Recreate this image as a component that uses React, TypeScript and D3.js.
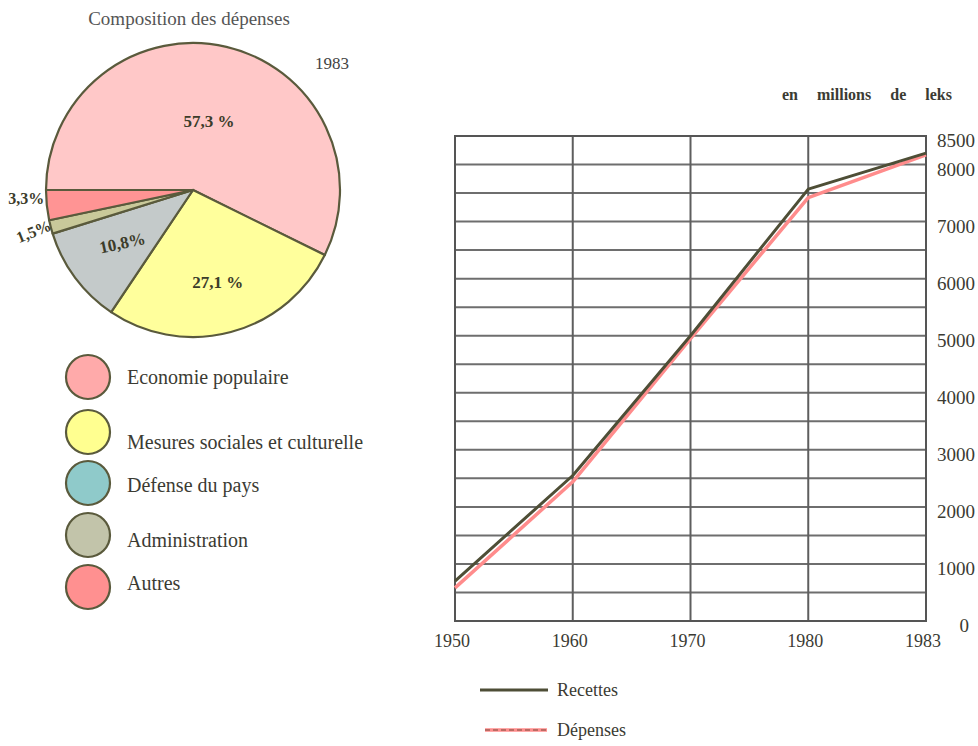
import * as d3 from "d3"
import { useMemo } from "react"

// pie data
const categories = ["Economie populaire", "Mesures sociales et culturelle", "Défense du pays", "Administration", "Autres"]
const shares = [57.3, 27.1, 10.8, 1.5, 3.3]
const shareLabels = ["57,3 %", "27,1 %", "10,8%", "1,5%", "3,3%"]

// line chart data
const years = ["1950", "1960", "1970", "1980", "1983"]
const recettes = [700, 2550, 5000, 7570, 8200]
const depenses = [580, 2440, 4950, 7420, 8170]
const yTicks = [0, 1000, 2000, 3000, 4000, 5000, 6000, 7000, 8000, 8500]

const sliceFill = ["#ffc8c8", "#ffff9c", "#c4caca", "#c9c99a", "#ff9494"]
const legendFill = ["#ffaaaa", "#ffff90", "#8fcaca", "#c2c4aa", "#ff9090"]
const labelRadius = [0.48, 0.65, 0.6, 1.12, 1.14]
const labelRotate = [0, 0, -12, -22, 0]
const labelShiftY = [0, 0, 0, 0, -9]

const FONT = "'Liberation Serif', 'DejaVu Serif', serif"
const INK = "#3b3b33"
const EDGE = "#5a5a3c"

const PieChart = () => {
    const cx = 193
    const cy = 190
    const radius = 147

    const arcs = useMemo(() => {
        const pie = d3.pie<number>().sort(null).startAngle(-Math.PI / 2).endAngle(1.5 * Math.PI)
        return pie(shares)
    }, [])
    const arcGen = d3.arc<d3.PieArcDatum<number>>().innerRadius(0).outerRadius(radius)

    return (
        <g>
            <text x={189} y={25} textAnchor="middle" fontSize={19} fill="#555" fontFamily={FONT}>
                Composition des dépenses
            </text>
            <text x={315} y={69} fontSize={17} fill="#444" fontFamily={FONT}>1983</text>
            <g transform={`translate(${cx},${cy})`}>
                {arcs.map((a, i) => (
                    <path key={i} d={arcGen(a) as string} fill={sliceFill[i]} stroke={EDGE} strokeWidth={2.2} strokeLinejoin="round" />
                ))}
                {arcs.map((a, i) => {
                    const mid = (a.startAngle + a.endAngle) / 2
                    const r = radius * labelRadius[i]
                    const x = Math.sin(mid) * r
                    const y = -Math.cos(mid) * r + labelShiftY[i]
                    return (
                        <text key={i} x={x} y={y} dy="0.35em" textAnchor="middle" fontSize={i < 3 ? 17 : 16}
                            fontWeight="bold" fill="#3c3c2a" fontFamily={FONT}
                            transform={`rotate(${labelRotate[i]},${x},${y})`}>
                            {shareLabels[i]}
                        </text>
                    )
                })}
            </g>
            {/* legend */}
            {categories.map((c, i) => {
                const circleY = [377, 432, 483, 535, 587][i]
                const textY = [384, 449, 492, 547, 590][i]
                return (
                    <g key={c}>
                        <circle cx={88} cy={circleY} r={22} fill={legendFill[i]} stroke={EDGE} strokeWidth={2.2} />
                        <text x={127} y={textY} fontSize={20} fill={INK} fontFamily={FONT}>{c}</text>
                    </g>
                )
            })}
        </g>
    )
}

const LineChart = () => {
    const x = d3.scalePoint<string>().domain(years).range([455, 926])
    const y = d3.scaleLinear().domain([0, 8500]).range([621, 136])
    const grid = d3.range(0, 8501, 500)
    const line = d3.line<number>().x((_, i) => x(years[i]) as number).y((d) => y(d))

    return (
        <g>
            <text x={782} y={100} fontSize={16} fontWeight="bold" fill={INK} fontFamily={FONT}
                style={{ wordSpacing: "15px" }}>
                en millions de leks
            </text>
            {grid.map((g) => (
                <line key={g} x1={455} x2={926} y1={y(g)} y2={y(g)} stroke="#6e6e6e" strokeWidth={2} />
            ))}
            {years.map((yr) => (
                <line key={yr} x1={x(yr)} x2={x(yr)} y1={y(0)} y2={y(8500)} stroke="#5e5e5e" strokeWidth={2} />
            ))}
            <rect x={455} y={y(8500)} width={926 - 455} height={y(0) - y(8500)} fill="none" stroke="#555" strokeWidth={2} />
            <path d={line(depenses) as string} fill="none" stroke="#ff8c8c" strokeWidth={3.5} strokeLinejoin="round" />
            <path d={line(recettes) as string} fill="none" stroke="#4e4e36" strokeWidth={3} strokeLinejoin="round" />
            {yTicks.map((t) => (
                <text key={t} x={t === 0 ? 969 : 975} y={y(t)} dy="0.6em" textAnchor="end" fontSize={19} fill={INK} fontFamily={FONT}>
                    {t}
                </text>
            ))}
            {years.map((yr) => (
                <text key={yr} x={(x(yr) as number) - 3} y={647} textAnchor="middle" fontSize={18} fill={INK}
                    fontFamily={FONT}>
                    {yr}
                </text>
            ))}
            {/* legend */}
            <line x1={480} x2={548} y1={690} y2={690} stroke="#4e4e36" strokeWidth={3} />
            <text x={557} y={696} fontSize={18} fill={INK} fontFamily={FONT}>Recettes</text>
            <line x1={485} x2={547} y1={730} y2={730} stroke="#ff8c8c" strokeWidth={3.5} />
            <line x1={485} x2={547} y1={730} y2={730} stroke="#7a4a3a" strokeWidth={1.2} strokeDasharray="5 3" />
            <text x={557} y={736} fontSize={18} fill={INK} fontFamily={FONT}>Dépenses</text>
        </g>
    )
}

export default function App() {
    return (
        <div style={{ position: "absolute", left: 0, top: 0 }}>
            <svg width={978} height={746} style={{ display: "block", background: "#fff" }}>
                <PieChart />
                <LineChart />
            </svg>
        </div>
    )
}
